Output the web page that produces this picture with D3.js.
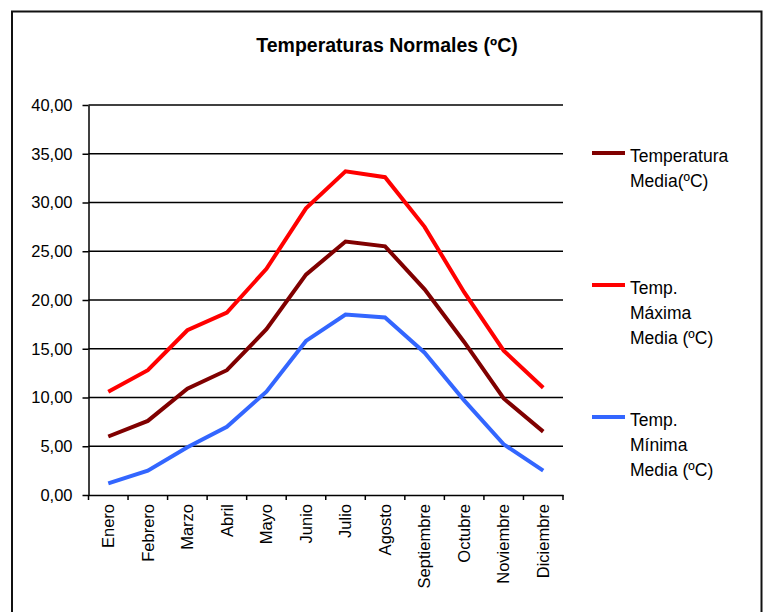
<!DOCTYPE html>
<html>
<head>
<meta charset="utf-8">
<script src="https://cdn.jsdelivr.net/npm/d3@7"></script>
<style>
  body { margin: 0; background: #fff; }
  svg { font-family: "Liberation Sans", Arial, sans-serif; }
</style>
</head>
<body>
<script>
var meses = ["Enero", "Febrero", "Marzo", "Abril", "Mayo", "Junio", "Julio",
             "Agosto", "Septiembre", "Octubre", "Noviembre", "Diciembre"];
var tMedia  = [6.0, 7.6, 10.9, 12.8, 17.0, 22.6, 26.0, 25.5, 21.1, 15.7, 9.9, 6.5];
var tMaxima = [10.6, 12.8, 16.9, 18.7, 23.2, 29.4, 33.2, 32.6, 27.5, 20.8, 14.8, 11.0];
var tMinima = [1.2, 2.5, 4.9, 7.0, 10.6, 15.8, 18.5, 18.2, 14.6, 9.7, 5.2, 2.5];
var yTicks = [0, 5, 10, 15, 20, 25, 30, 35, 40];
var series = [
  {name: ["Temperatura", "Media(ºC)"], values: tMedia, color: "#800000"},
  {name: ["Temp.", "Máxima", "Media (ºC)"], values: tMaxima, color: "#ff0000"},
  {name: ["Temp.", "Mínima", "Media (ºC)"], values: tMinima, color: "#3366ff"}
];

var W = 766, H = 612;
var plot = {left: 88.5, right: 563, top: 105, bottom: 495};

var svg = d3.select("body").append("svg")
    .attr("width", W)
    .attr("height", H);

// chart frame (bottom edge runs off the picture)
svg.append("rect")
    .attr("x", 12).attr("y", 11.5)
    .attr("width", 749.5).attr("height", 620)
    .attr("fill", "none")
    .attr("stroke", "#111")
    .attr("stroke-width", 2);

svg.append("text")
    .attr("x", 387).attr("y", 52)
    .attr("text-anchor", "middle")
    .attr("font-size", 19.5)
    .attr("font-weight", "bold")
    .text("Temperaturas Normales (ºC)");

var x = d3.scaleBand().domain(meses).range([plot.left, plot.right]);
var y = d3.scaleLinear().domain([0, 40]).range([plot.bottom, plot.top]);

// gridlines
svg.append("g")
  .selectAll("line")
  .data(yTicks.slice(1))
  .join("line")
    .attr("x1", plot.left).attr("x2", plot.right)
    .attr("y1", function(d) { return y(d); })
    .attr("y2", function(d) { return y(d); })
    .attr("stroke", "#000")
    .attr("stroke-width", 1.5);

// y axis
var fmt = function(d) { return d3.format(".2f")(d).replace(".", ","); };
var yAxis = svg.append("g")
    .attr("transform", "translate(" + plot.left + ",0)")
    .call(d3.axisLeft(y).tickValues(yTicks).tickFormat(fmt).tickSize(6).tickPadding(10).tickSizeOuter(0));
yAxis.select(".domain").attr("stroke", "#000").attr("stroke-width", 1.5);
yAxis.selectAll(".tick line").attr("stroke", "#000").attr("stroke-width", 1.5);
yAxis.selectAll("text")
    .attr("font-size", 16.5)
    .attr("font-family", "Liberation Sans, Arial, sans-serif")
    .attr("fill", "#000");

// x axis
var xAxis = svg.append("g")
    .attr("transform", "translate(0," + plot.bottom + ")")
    .call(d3.axisBottom(x).tickSize(0).tickPadding(9).tickSizeOuter(0));
xAxis.select(".domain").attr("stroke", "#000").attr("stroke-width", 1.5);
xAxis.selectAll(".tick text")
    .attr("font-size", 16.5)
    .attr("font-family", "Liberation Sans, Arial, sans-serif")
    .attr("fill", "#000")
    .attr("text-anchor", "end")
    .attr("transform", "rotate(-90)")
    .attr("x", -9)
    .attr("y", 0)
    .attr("dy", "0.35em");
// month boundary ticks
var bounds = meses.map(function(m) { return x(m); }).concat([plot.right]);
xAxis.selectAll(".bound")
  .data(bounds)
  .join("line")
    .attr("class", "bound")
    .attr("x1", function(d) { return d; }).attr("x2", function(d) { return d; })
    .attr("y1", 0).attr("y2", 5)
    .attr("stroke", "#000")
    .attr("stroke-width", 1.5);

// series lines
var line = d3.line()
    .x(function(d, i) { return x(meses[i]) + x.bandwidth() / 2; })
    .y(function(d) { return y(d); });

svg.append("g")
  .selectAll("path")
  .data(series)
  .join("path")
    .attr("d", function(s) { return line(s.values); })
    .attr("fill", "none")
    .attr("stroke", function(s) { return s.color; })
    .attr("stroke-width", 4);

// legend
var legendY = [153, 285, 417];
var leg = svg.append("g")
  .selectAll("g")
  .data(series)
  .join("g")
    .attr("transform", function(s, i) { return "translate(592," + legendY[i] + ")"; });
leg.append("line")
    .attr("x1", 0).attr("x2", 33)
    .attr("stroke", function(s) { return s.color; })
    .attr("stroke-width", 4);
leg.append("text")
    .attr("font-size", 17.5)
    .attr("fill", "#000")
  .selectAll("tspan")
  .data(function(s) { return s.name; })
  .join("tspan")
    .attr("x", 38)
    .attr("y", function(d, i) { return 8.5 + i * 25; })
    .text(function(d) { return d; });
</script>
</body>
</html>
